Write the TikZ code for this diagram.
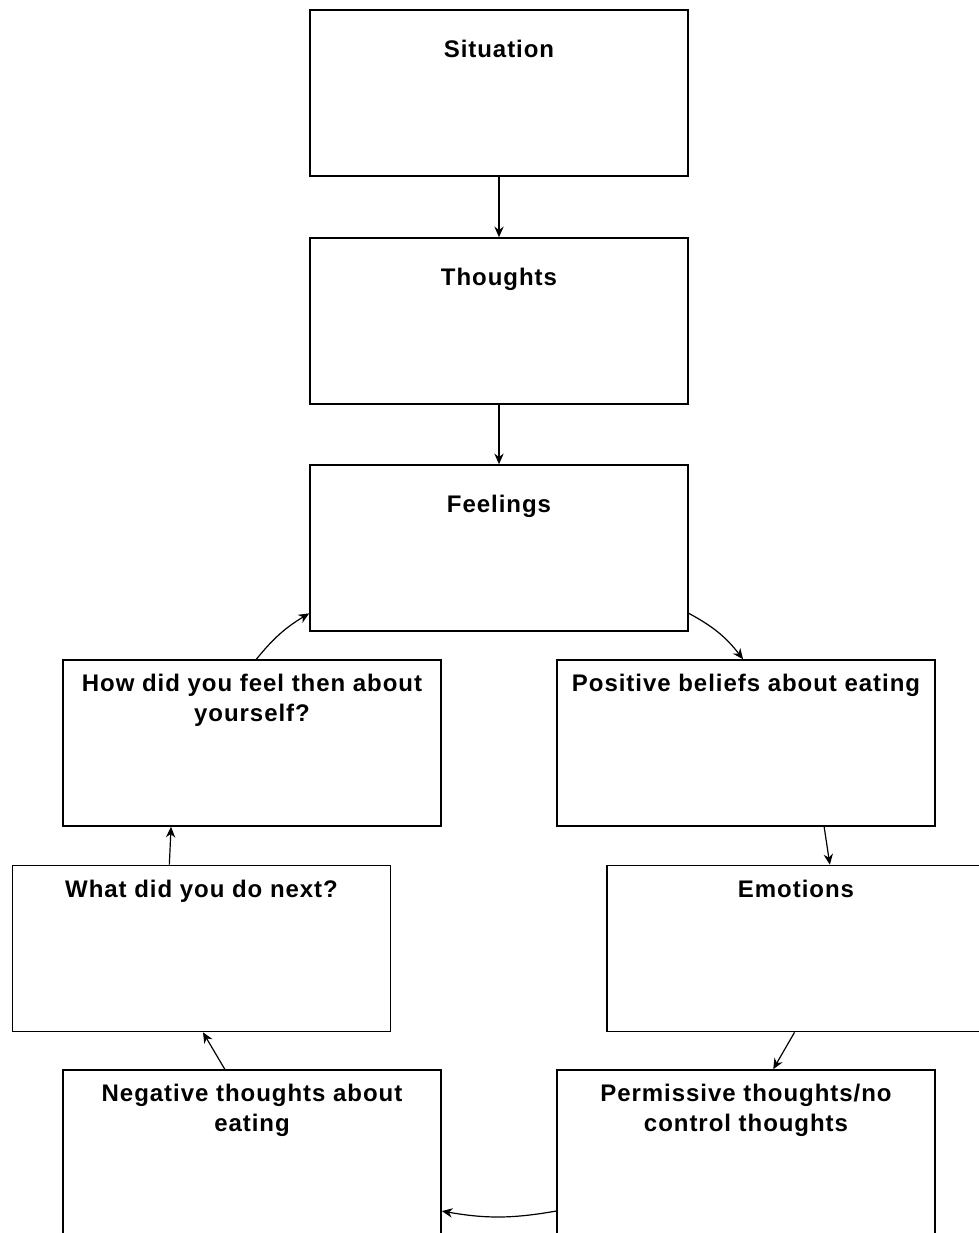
\documentclass[tikz,border=0pt]{standalone}
\usepackage{fontspec}
\newfontfamily\boxfont{Liberation Sans}[LetterSpace=4]
\usetikzlibrary{arrows.meta}

\begin{document}
\begin{tikzpicture}[x=0.75pt,y=-0.75pt,
    stepbox/.style={draw,line width=1.2pt,minimum width=283.5pt,minimum height=124.5pt,inner sep=0pt},
    labeltext/.style={anchor=north,inner sep=0pt,align=center,
        font=\boxfont\fontsize{18}{22.5}\selectfont\bfseries},
    boxtext/.style={labeltext,yshift=-23pt},
    cycletext/.style={labeltext,yshift=-11pt},
    link/.style={line width=0.9pt,-{Stealth[length=8pt,width=7pt]}}]

    \useasboundingbox (0,0) rectangle (979,1233);

    % middle column
    \node[stepbox,label={[boxtext]north:Situation}] (sit) at (499,93) {};
    \node[stepbox,label={[boxtext]north:Thoughts}] (tho) at (499,321) {};
    \node[stepbox,label={[boxtext]north:Feelings}] (fee) at (499,548) {};

    % left side of the cycle
    \node[stepbox,label={[cycletext]north:How did you feel then about\\yourself?}] (how) at (252,743) {};
    \node[stepbox,label={[cycletext]north:What did you do next?}] (wha) at (201.5,948.5) {};
    \node[stepbox,label={[cycletext]north:Negative thoughts about\\eating}] (neg) at (252,1153) {};

    % right side of the cycle
    \node[stepbox,label={[cycletext]north:Positive beliefs about eating}] (pos) at (746,743) {};
    \node[stepbox,label={[cycletext]north:Emotions}] (emo) at (796,948.5) {};
    \node[stepbox,label={[cycletext]north:Permissive thoughts/no\\control thoughts}] (per) at (746,1153) {};

    \draw[link] (sit) -- (tho);
    \draw[link] (tho) -- (fee);
    \draw[link] (fee.-19) to[bend left=12] (pos.92);
    \draw[link] (pos.-47) -- (emo.68);
    \draw[link] (emo.269) -- (per.72);
    \draw[link] (per.197) to[bend left=10] (neg.-17);
    \draw[link] (neg.108) -- (wha.271);
    \draw[link] (wha.111) -- (how.226);
    \draw[link] (how.87) to[bend left=10] (fee.199);

\end{tikzpicture}
\end{document}
